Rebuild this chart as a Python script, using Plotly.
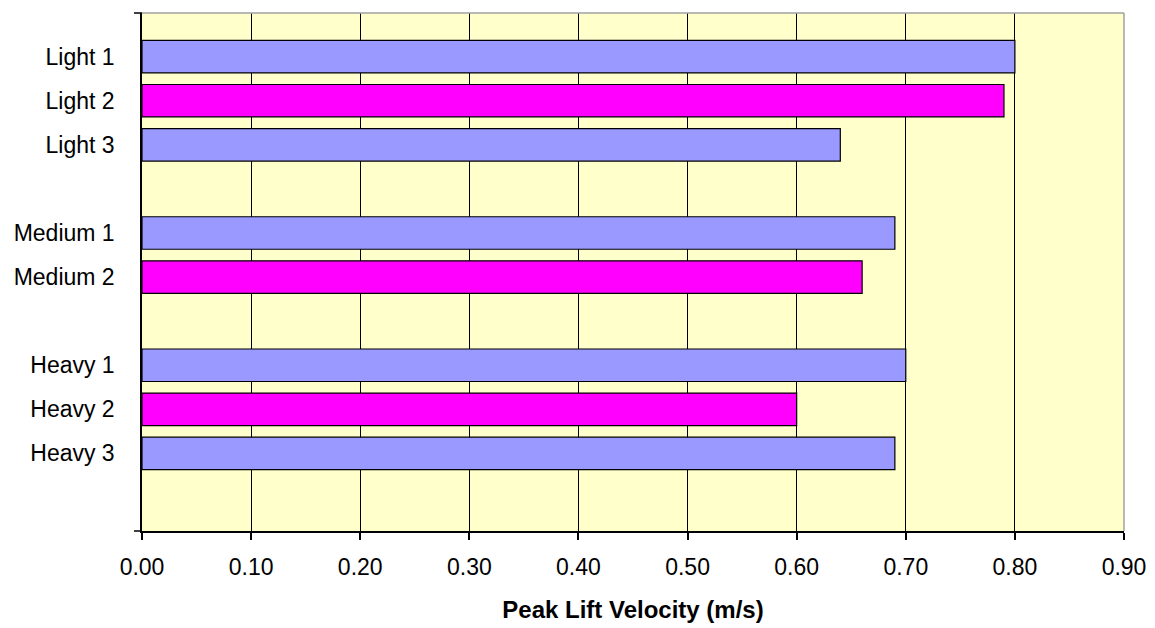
import plotly.graph_objects as go

# Data (top to bottom); blank entries are spacer rows between groups
labels = ["Light 1", "Light 2", "Light 3", " ",
          "Medium 1", "Medium 2", "  ",
          "Heavy 1", "Heavy 2", "Heavy 3"]
values = [0.80, 0.79, 0.64, None,
          0.69, 0.66, None,
          0.70, 0.60, 0.69]
trial = [1, 2, 3, 0, 1, 2, 0, 1, 2, 3]
x_ticks = [0.0, 0.1, 0.2, 0.3, 0.4, 0.5, 0.6, 0.7, 0.8, 0.9]

BLUE = "#9999FF"
MAGENTA = "#FF00FF"
colors = [MAGENTA if t == 2 else BLUE for t in trial]

real_labels = [l for l in labels if l.strip()]

fig = go.Figure(go.Bar(
    x=values, y=labels, orientation="h",
    marker=dict(color=colors, line=dict(color="#000000", width=1.2)),
    hoverinfo="x+y",
))

font_family = "Liberation Sans, Arial, sans-serif"

fig.update_layout(
    width=1155, height=628,
    margin=dict(l=142, r=31, t=13, b=97, autoexpand=False),
    paper_bgcolor="#FFFFFF",
    plot_bgcolor="#FFFFCC",
    bargap=0.263,
    showlegend=False,
    font=dict(family=font_family, size=23, color="#000000"),
    xaxis=dict(
        range=[0, 0.9],
        tickvals=x_ticks,
        tickformat=".2f",
        showgrid=True, gridcolor="#000000", gridwidth=1.2,
        showline=True, linecolor="#000000", linewidth=1.5,
        ticks="outside", ticklen=7, tickwidth=1.5, tickcolor="#000000",
        ticklabelstandoff=8,
        zeroline=False,
        automargin=False,
        tickfont=dict(size=23),
        title=dict(text="<b>Peak Lift Velocity (m/s)</b>", font=dict(size=24), standoff=22),
    ),
    yaxis=dict(
        type="category",
        categoryorder="array", categoryarray=labels,
        tickvals=real_labels, ticktext=real_labels,
        range=[10.76, -0.99],
        showgrid=False,
        showline=True, linecolor="#000000", linewidth=1.5,
        ticks="", ticklabelstandoff=21,
        zeroline=False,
        automargin=False,
        tickfont=dict(size=23),
    ),
    shapes=[
        dict(type="line", xref="paper", yref="paper", x0=0, x1=1, y0=1, y1=1,
             line=dict(color="#A0A0A0", width=1.5), layer="above"),
        dict(type="line", xref="paper", yref="paper", x0=1, x1=1, y0=0, y1=1,
             line=dict(color="#A0A0A0", width=1.5), layer="above"),
        dict(type="line", xref="paper", yref="paper", x0=-8 / 982, x1=0, y0=1, y1=1,
             line=dict(color="#000000", width=1.5), layer="above"),
        dict(type="line", xref="paper", yref="paper", x0=-8 / 982, x1=0, y0=0, y1=0,
             line=dict(color="#000000", width=1.5), layer="above"),
    ],
)

fig.write_html("out.html")
